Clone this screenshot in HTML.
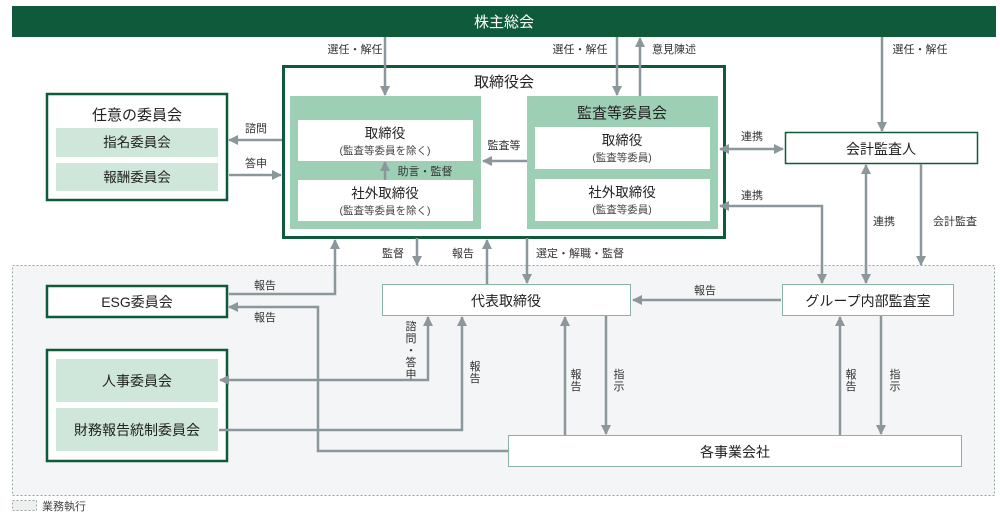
<!DOCTYPE html>
<html><head><meta charset="utf-8"><style>
html,body{margin:0;padding:0;background:#fff;}
svg{display:block;font-family:"Liberation Sans","Noto Sans CJK JP",sans-serif;}
</style></head><body>
<svg width="1000" height="513" viewBox="0 0 1000 513" xmlns="http://www.w3.org/2000/svg">
<defs>
<marker id="a" viewBox="0 0 10 10" refX="9" refY="5" markerWidth="10" markerHeight="10" markerUnits="userSpaceOnUse" orient="auto-start-reverse"><path d="M0,0 L10,5 L0,10 z" fill="#8c979c"/></marker>
</defs>
<!-- top bar -->
<rect x="12" y="6" width="984" height="31" fill="#0e5a3a"/>
<text x="504" y="27" font-size="15" fill="#fff" text-anchor="middle">株主総会</text>

<!-- execution region -->
<rect x="12.5" y="265.5" width="982" height="230" fill="#f3f5f6" stroke="#9aa3a6" stroke-dasharray="2,2"/>
<rect x="12.5" y="500.5" width="24" height="10" fill="#eef0ee" stroke="#9aa3a6" stroke-dasharray="2,2"/>
<text x="42" y="510" font-size="11" fill="#444">業務執行</text>

<!-- board -->
<rect x="283.5" y="66.5" width="441" height="171" fill="#fff" stroke="#0e5a3a" stroke-width="3"/>
<text x="504" y="87" font-size="15" fill="#222" text-anchor="middle">取締役会</text>
<rect x="290" y="96" width="191" height="133" fill="#9dcfb5"/>
<rect x="298" y="120" width="175" height="41" fill="#fff"/>
<rect x="298" y="180" width="175" height="41" fill="#fff"/>
<text x="385" y="138" font-size="13.5" fill="#222" text-anchor="middle">取締役</text>
<text x="385" y="154" font-size="10.5" fill="#444" text-anchor="middle">(監査等委員を除く)</text>
<text x="385" y="198" font-size="13.5" fill="#222" text-anchor="middle">社外取締役</text>
<text x="385" y="214" font-size="10.5" fill="#444" text-anchor="middle">(監査等委員を除く)</text>
<text x="425" y="175" font-size="11" fill="#333" text-anchor="middle">助言・監督</text>

<rect x="527" y="96" width="191" height="133" fill="#9dcfb5"/>
<text x="622" y="118" font-size="15" fill="#222" text-anchor="middle">監査等委員会</text>
<rect x="535" y="127" width="175" height="42" fill="#fff"/>
<rect x="535" y="179" width="175" height="42" fill="#fff"/>
<text x="622" y="145" font-size="13.5" fill="#222" text-anchor="middle">取締役</text>
<text x="622" y="161" font-size="10.5" fill="#444" text-anchor="middle">(監査等委員)</text>
<text x="622" y="197" font-size="13.5" fill="#222" text-anchor="middle">社外取締役</text>
<text x="622" y="213" font-size="10.5" fill="#444" text-anchor="middle">(監査等委員)</text>
<text x="504" y="149" font-size="11" fill="#333" text-anchor="middle">監査等</text>

<!-- 任意の委員会 -->
<rect x="47" y="94" width="180" height="106" fill="#fff" stroke="#0e5a3a" stroke-width="2.5"/>
<text x="137" y="120" font-size="15" fill="#222" text-anchor="middle">任意の委員会</text>
<rect x="56" y="128" width="162" height="29" fill="#cfe7da"/>
<rect x="56" y="163" width="162" height="28" fill="#cfe7da"/>
<text x="137" y="147" font-size="13.5" fill="#222" text-anchor="middle">指名委員会</text>
<text x="137" y="182" font-size="13.5" fill="#222" text-anchor="middle">報酬委員会</text>
<text x="256" y="132" font-size="11" fill="#333" text-anchor="middle">諮問</text>
<text x="256" y="167" font-size="11" fill="#333" text-anchor="middle">答申</text>

<!-- 会計監査人 -->
<rect x="785.5" y="132.5" width="192" height="31" fill="#fff" stroke="#0e5a3a" stroke-width="1.5"/>
<text x="881" y="154" font-size="14" fill="#222" text-anchor="middle">会計監査人</text>

<!-- ESG -->
<rect x="47" y="286" width="180" height="31" fill="#fff" stroke="#0e5a3a" stroke-width="2.5"/>
<text x="137" y="307" font-size="14" fill="#222" text-anchor="middle">ESG委員会</text>

<!-- 人事/財務 -->
<rect x="47" y="350" width="180" height="111" fill="#fff" stroke="#0e5a3a" stroke-width="2.5"/>
<rect x="56" y="359" width="162" height="43" fill="#cfe7da"/>
<rect x="56" y="408" width="162" height="43" fill="#cfe7da"/>
<text x="137" y="386" font-size="14" fill="#222" text-anchor="middle">人事委員会</text>
<text x="137" y="435" font-size="14" fill="#222" text-anchor="middle">財務報告統制委員会</text>

<!-- 代表取締役 -->
<rect x="382.5" y="284.5" width="248" height="31" fill="#fff" stroke="#8ab3a3"/>
<text x="506" y="306" font-size="14" fill="#222" text-anchor="middle">代表取締役</text>
<!-- グループ -->
<rect x="782.5" y="284.5" width="171" height="31" fill="#fff" stroke="#8ab3a3"/>
<text x="868" y="306" font-size="14" fill="#222" text-anchor="middle">グループ内部監査室</text>
<!-- 各事業会社 -->
<rect x="508.5" y="435.5" width="453" height="31" fill="#fff" stroke="#8ab3a3"/>
<text x="735" y="457" font-size="14" fill="#222" text-anchor="middle">各事業会社</text>

<g stroke="#8c979c" stroke-width="2.5" fill="none">
<path d="M385 37 V95" marker-end="url(#a)"/>
<path d="M617 37 V95" marker-end="url(#a)"/>
<path d="M640 96 V38" marker-end="url(#a)"/>
<path d="M882 37 V131" marker-end="url(#a)"/>
<path d="M385 180 V162" marker-end="url(#a)"/>
<path d="M527 161 H483" marker-end="url(#a)"/>
<path d="M282 140 H229" marker-end="url(#a)"/>
<path d="M229 175 H281" marker-end="url(#a)"/>
<path d="M720 149 H783" marker-start="url(#a)" marker-end="url(#a)"/>
<path d="M720 206 H822 V283" marker-start="url(#a)" marker-end="url(#a)"/>
<path d="M866 165 V283" marker-start="url(#a)" marker-end="url(#a)"/>
<path d="M921 164 V265" marker-end="url(#a)"/>
<path d="M229 294 H335 V240" marker-end="url(#a)"/>
<path d="M417 238 V265" marker-end="url(#a)"/>
<path d="M487 284 V240" marker-end="url(#a)"/>
<path d="M527 238 V283" marker-end="url(#a)"/>
<path d="M781 300 H633" marker-end="url(#a)"/>
<path d="M508 451 H318 V307 H229" marker-end="url(#a)"/>
<path d="M428 317 V380 H220" marker-start="url(#a)" marker-end="url(#a)"/>
<path d="M219 430 H462 V317" marker-end="url(#a)"/>
<path d="M565 435 V317" marker-end="url(#a)"/>
<path d="M606 316 V434" marker-end="url(#a)"/>
<path d="M840 435 V317" marker-end="url(#a)"/>
<path d="M881 316 V434" marker-end="url(#a)"/>
</g>

<g font-size="11" fill="#333" text-anchor="middle">
<text x="355" y="53">選任・解任</text>
<text x="580" y="53">選任・解任</text>
<text x="674" y="53">意見陳述</text>
<text x="920" y="53">選任・解任</text>
<text x="752" y="140">連携</text>
<text x="752" y="199">連携</text>
<text x="884" y="225">連携</text>
<text x="955" y="225">会計監査</text>
<text x="393" y="257">監督</text>
<text x="463" y="257">報告</text>
<text x="580" y="257">選定・解職・監督</text>
<text x="265" y="289">報告</text>
<text x="265" y="321">報告</text>
<text x="705" y="294">報告</text>
</g>
<g font-size="11" fill="#333" text-anchor="middle">
<text x="411" y="330">諮</text><text x="411" y="342">問</text><text x="411" y="354">・</text><text x="411" y="366">答</text><text x="411" y="378">申</text>
<text x="475" y="370">報</text><text x="475" y="382">告</text>
<text x="576" y="378">報</text><text x="576" y="390">告</text>
<text x="619" y="378">指</text><text x="619" y="390">示</text>
<text x="851" y="378">報</text><text x="851" y="390">告</text>
<text x="895" y="378">指</text><text x="895" y="390">示</text>
</g>
</svg>
</body></html>
